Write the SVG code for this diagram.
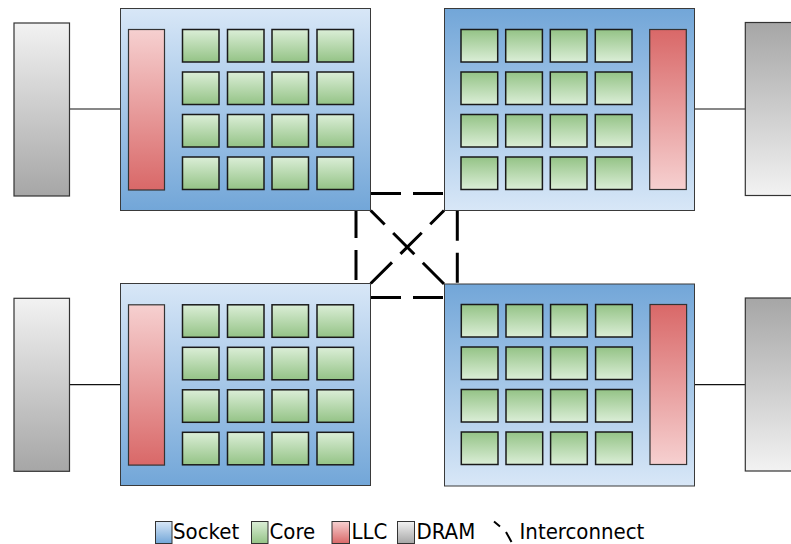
<svg xmlns="http://www.w3.org/2000/svg" width="791" height="544" viewBox="0 0 791 544">
<style>
.sock{stroke:#3a3a3a;stroke-width:1}
.core{stroke:#1a1a1a;stroke-width:1.5}
.llc{stroke:#333;stroke-width:1.2}
.dram{stroke:#333;stroke-width:1.2}
.mem{stroke:#111;stroke-width:1.2;fill:none}
.ic{stroke:#000;stroke-width:3;fill:none;stroke-dasharray:30 12}
.lbl{font-family:'DejaVu Sans Condensed','DejaVu Sans',sans-serif;font-stretch:condensed;font-size:22px;fill:#000}
.sw{stroke:#333;stroke-width:1}
</style>
<defs>
<linearGradient id="sockDown" x1="0" y1="0" x2="0" y2="1"><stop offset="0" stop-color="#d8e7f7"/><stop offset="1" stop-color="#72a6d8"/></linearGradient>
<linearGradient id="sockUp" x1="0" y1="1" x2="0" y2="0"><stop offset="0" stop-color="#d8e7f7"/><stop offset="1" stop-color="#72a6d8"/></linearGradient>
<linearGradient id="coreDown" x1="0" y1="0" x2="0" y2="1"><stop offset="0" stop-color="#dbeed7"/><stop offset="1" stop-color="#94c386"/></linearGradient>
<linearGradient id="coreUp" x1="0" y1="1" x2="0" y2="0"><stop offset="0" stop-color="#dbeed7"/><stop offset="1" stop-color="#94c386"/></linearGradient>
<linearGradient id="llcDown" x1="0" y1="0" x2="0" y2="1"><stop offset="0" stop-color="#f6d0d0"/><stop offset="1" stop-color="#d96868"/></linearGradient>
<linearGradient id="llcUp" x1="0" y1="1" x2="0" y2="0"><stop offset="0" stop-color="#f6d0d0"/><stop offset="1" stop-color="#d96868"/></linearGradient>
<linearGradient id="dramDown" x1="0" y1="0" x2="0" y2="1"><stop offset="0" stop-color="#f2f2f2"/><stop offset="1" stop-color="#a6a6a6"/></linearGradient>
<linearGradient id="dramUp" x1="0" y1="1" x2="0" y2="0"><stop offset="0" stop-color="#f2f2f2"/><stop offset="1" stop-color="#a6a6a6"/></linearGradient>
</defs>
<rect width="791" height="544" fill="#fff"/>

<g id="connectors">
<line class="mem" x1="69.5" y1="109" x2="120.7" y2="109"/>
<line class="mem" x1="694.3" y1="109" x2="745.3" y2="109"/>
<line class="mem" x1="69.5" y1="384.7" x2="120.7" y2="384.7"/>
<line class="mem" x1="694.3" y1="384.7" x2="745.3" y2="384.7"/>
<path class="ic" d="M371 193.5H444"/>
<path class="ic" d="M371 297.5H444"/>
<path class="ic" d="M356 208V283.5"/>
<path class="ic" d="M457.3 210.7V284"/>
<path class="ic" d="M444 284L370.7 210.5"/>
<path class="ic" d="M370.7 283.5L444 210.5"/>
</g>

<g id="dram-tl"><rect class="dram" x="14" y="23" width="55.5" height="173" fill="url(#dramDown)"/></g>
<g id="dram-tr"><rect class="dram" x="745.3" y="22.5" width="56" height="173" fill="url(#dramUp)"/></g>
<g id="dram-bl"><rect class="dram" x="14" y="298.3" width="55.5" height="173" fill="url(#dramDown)"/></g>
<g id="dram-br"><rect class="dram" x="745.3" y="298" width="56" height="173" fill="url(#dramUp)"/></g>

<g id="socket-tl">
<rect class="sock" x="120.5" y="8.5" width="250" height="202" fill="url(#sockDown)"/>
<rect class="llc" x="128.5" y="29.5" width="36" height="160.5" fill="url(#llcDown)"/>
<g fill="url(#coreDown)" class="core">
<rect x="182.5" y="29.5" width="36.5" height="32.5"/><rect x="227.5" y="29.5" width="36.5" height="32.5"/><rect x="272" y="29.5" width="36.5" height="32.5"/><rect x="317" y="29.5" width="36.5" height="32.5"/>
<rect x="182.5" y="72" width="36.5" height="32.5"/><rect x="227.5" y="72" width="36.5" height="32.5"/><rect x="272" y="72" width="36.5" height="32.5"/><rect x="317" y="72" width="36.5" height="32.5"/>
<rect x="182.5" y="114.5" width="36.5" height="32.5"/><rect x="227.5" y="114.5" width="36.5" height="32.5"/><rect x="272" y="114.5" width="36.5" height="32.5"/><rect x="317" y="114.5" width="36.5" height="32.5"/>
<rect x="182.5" y="157" width="36.5" height="32.5"/><rect x="227.5" y="157" width="36.5" height="32.5"/><rect x="272" y="157" width="36.5" height="32.5"/><rect x="317" y="157" width="36.5" height="32.5"/>
</g>
</g>

<g id="socket-tr">
<rect class="sock" x="444.5" y="8.5" width="250" height="202" fill="url(#sockUp)"/>
<rect class="llc" x="649.7" y="29.5" width="36.6" height="160" fill="url(#llcUp)"/>
<g fill="url(#coreUp)" class="core">
<rect x="461" y="29.5" width="36.7" height="32.5"/><rect x="505.7" y="29.5" width="36.7" height="32.5"/><rect x="550.3" y="29.5" width="36.7" height="32.5"/><rect x="595.3" y="29.5" width="36.7" height="32.5"/>
<rect x="461" y="72" width="36.7" height="32.5"/><rect x="505.7" y="72" width="36.7" height="32.5"/><rect x="550.3" y="72" width="36.7" height="32.5"/><rect x="595.3" y="72" width="36.7" height="32.5"/>
<rect x="461" y="114.5" width="36.7" height="32.5"/><rect x="505.7" y="114.5" width="36.7" height="32.5"/><rect x="550.3" y="114.5" width="36.7" height="32.5"/><rect x="595.3" y="114.5" width="36.7" height="32.5"/>
<rect x="461" y="157" width="36.7" height="32.5"/><rect x="505.7" y="157" width="36.7" height="32.5"/><rect x="550.3" y="157" width="36.7" height="32.5"/><rect x="595.3" y="157" width="36.7" height="32.5"/>
</g>
</g>

<g id="socket-bl">
<rect class="sock" x="120.5" y="283.5" width="250" height="202" fill="url(#sockDown)"/>
<rect class="llc" x="128.5" y="304.8" width="36" height="160.3" fill="url(#llcDown)"/>
<g fill="url(#coreDown)" class="core">
<rect x="182.5" y="304.8" width="36.5" height="32.5"/><rect x="227.5" y="304.8" width="36.5" height="32.5"/><rect x="272" y="304.8" width="36.5" height="32.5"/><rect x="317" y="304.8" width="36.5" height="32.5"/>
<rect x="182.5" y="347.3" width="36.5" height="32.5"/><rect x="227.5" y="347.3" width="36.5" height="32.5"/><rect x="272" y="347.3" width="36.5" height="32.5"/><rect x="317" y="347.3" width="36.5" height="32.5"/>
<rect x="182.5" y="389.8" width="36.5" height="32.5"/><rect x="227.5" y="389.8" width="36.5" height="32.5"/><rect x="272" y="389.8" width="36.5" height="32.5"/><rect x="317" y="389.8" width="36.5" height="32.5"/>
<rect x="182.5" y="432.3" width="36.5" height="32.5"/><rect x="227.5" y="432.3" width="36.5" height="32.5"/><rect x="272" y="432.3" width="36.5" height="32.5"/><rect x="317" y="432.3" width="36.5" height="32.5"/>
</g>
</g>

<g id="socket-br">
<rect class="sock" x="444.5" y="284" width="250" height="202" fill="url(#sockUp)"/>
<rect class="llc" x="650" y="304.5" width="36.6" height="160" fill="url(#llcUp)"/>
<g fill="url(#coreUp)" class="core">
<rect x="461.3" y="304.5" width="36.7" height="32.5"/><rect x="506" y="304.5" width="36.7" height="32.5"/><rect x="550.6" y="304.5" width="36.7" height="32.5"/><rect x="595.6" y="304.5" width="36.7" height="32.5"/>
<rect x="461.3" y="347" width="36.7" height="32.5"/><rect x="506" y="347" width="36.7" height="32.5"/><rect x="550.6" y="347" width="36.7" height="32.5"/><rect x="595.6" y="347" width="36.7" height="32.5"/>
<rect x="461.3" y="389.5" width="36.7" height="32.5"/><rect x="506" y="389.5" width="36.7" height="32.5"/><rect x="550.6" y="389.5" width="36.7" height="32.5"/><rect x="595.6" y="389.5" width="36.7" height="32.5"/>
<rect x="461.3" y="432" width="36.7" height="32.5"/><rect x="506" y="432" width="36.7" height="32.5"/><rect x="550.6" y="432" width="36.7" height="32.5"/><rect x="595.6" y="432" width="36.7" height="32.5"/>
</g>
</g>

<g id="legend">
<rect class="sw" x="155.5" y="521.5" width="16.5" height="22" fill="url(#sockDown)"/>
<text class="lbl" x="173" y="539.3">Socket</text>
<rect class="sw" x="251.5" y="521.5" width="16.5" height="22" fill="url(#coreDown)"/>
<text class="lbl" x="269.5" y="539.3">Core</text>
<rect class="sw" x="332" y="521.5" width="17.5" height="22" fill="url(#llcDown)"/>
<text class="lbl" x="351.5" y="539.3">LLC</text>
<rect class="sw" x="397.5" y="521.5" width="17" height="22" fill="url(#dramDown)"/>
<text class="lbl" x="416.5" y="539.3">DRAM</text>
<path d="M494 521.5L500 526.5M506 532L511.5 542" stroke="#000" stroke-width="2" fill="none"/>
<text class="lbl" x="519.5" y="539.3">Interconnect</text>
</g>
</svg>
